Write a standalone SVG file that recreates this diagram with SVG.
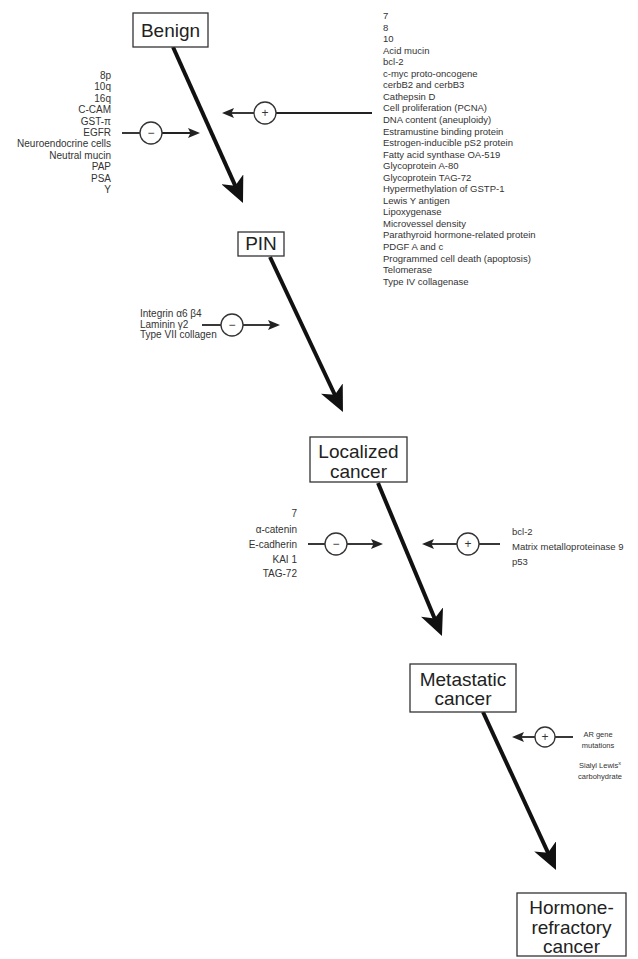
<svg xmlns="http://www.w3.org/2000/svg" width="638" height="959" viewBox="0 0 638 959">
<defs>
<style>
.box{fill:#fff;stroke:#333;stroke-width:1.3}
.lbl{font-family:"Liberation Sans",Arial,sans-serif;font-size:19px;fill:#222;text-anchor:middle}
.lst{font-family:"Liberation Sans",Arial,sans-serif;font-size:9.5px;fill:#333}
.lstL{font-family:"Liberation Sans",Arial,sans-serif;font-size:10px;fill:#333;text-anchor:end}
.sm{font-family:"Liberation Sans",Arial,sans-serif;font-size:7.5px;fill:#333;text-anchor:middle}
.main{stroke:#111;stroke-width:4;fill:none;marker-end:url(#bigHead)}
.thin{stroke:#222;stroke-width:1.8;fill:none}
.thinA{stroke:#222;stroke-width:1.8;fill:none;marker-end:url(#smallHead)}
.sig{fill:#fff;stroke:#333;stroke-width:1.3}
.sgt{font-family:"Liberation Sans",Arial,sans-serif;font-size:12px;fill:#333;text-anchor:middle}
</style>
<marker id="bigHead" markerUnits="userSpaceOnUse" markerWidth="26" markerHeight="24" refX="16" refY="12" orient="auto" viewBox="0 0 26 24">
<path d="M0,0 L26,12 L0,24 L7,12 Z" fill="#111"/>
</marker>
<marker id="smallHead" markerUnits="userSpaceOnUse" markerWidth="12" markerHeight="10" refX="7" refY="5" orient="auto" viewBox="0 0 12 10">
<path d="M0,0 L12,5 L0,10 L2.5,5 Z" fill="#222"/>
</marker>
</defs>
<rect width="638" height="959" fill="#fff"/>

<g id="connectors">
<line class="main" x1="173" y1="47" x2="238.9" y2="193.9"/>
<line class="main" x1="270" y1="257" x2="338.7" y2="403.0"/>
<line class="main" x1="378" y1="483" x2="438.1" y2="626.8"/>
<line class="main" x1="483" y1="712" x2="551.8" y2="860.9"/>
<!-- benign minus -->
<line class="thin" x1="122" y1="133" x2="140" y2="133"/>
<line class="thinA" x1="162" y1="133" x2="195" y2="133"/>
<!-- benign plus -->
<line class="thin" x1="372" y1="113" x2="276" y2="113"/>
<line class="thinA" x1="254" y1="113" x2="227" y2="113"/>
<!-- PIN minus -->
<line class="thin" x1="202" y1="325" x2="221" y2="325"/>
<line class="thinA" x1="243" y1="325" x2="275" y2="325"/>
<!-- localized minus -->
<line class="thin" x1="308" y1="544" x2="325" y2="544"/>
<line class="thinA" x1="347" y1="544" x2="378" y2="544"/>
<!-- localized plus -->
<line class="thin" x1="500" y1="544" x2="479" y2="544"/>
<line class="thinA" x1="457" y1="544" x2="427" y2="544"/>
<!-- metastatic plus -->
<line class="thin" x1="573" y1="737" x2="555" y2="737"/>
<line class="thinA" x1="535" y1="737" x2="517" y2="737"/>
</g>

<g id="benign">
<rect class="box" x="133" y="13" width="75" height="34"/>
<text class="lbl" x="170.5" y="37">Benign</text>
</g>
<g id="pin">
<rect class="box" x="238" y="232" width="46" height="24"/>
<text class="lbl" x="261" y="250">PIN</text>
</g>
<g id="localized">
<rect class="box" x="310" y="437" width="97" height="45"/>
<text class="lbl" x="358.5" y="458">Localized</text>
<text class="lbl" x="358.5" y="478">cancer</text>
</g>
<g id="metastatic">
<rect class="box" x="410" y="664" width="106" height="48"/>
<text class="lbl" x="463" y="686">Metastatic</text>
<text class="lbl" x="463" y="705">cancer</text>
</g>
<g id="hormone-refractory">
<rect class="box" x="517" y="893" width="109" height="63"/>
<text class="lbl" x="571.5" y="914">Hormone-</text>
<text class="lbl" x="571.5" y="934">refractory</text>
<text class="lbl" x="571.5" y="953">cancer</text>
</g>

<g id="sign-benign-minus"><circle class="sig" cx="151" cy="133" r="11"/><text class="sgt" x="151" y="137">−</text></g>
<g id="sign-benign-plus"><circle class="sig" cx="265" cy="113" r="11"/><text class="sgt" x="265" y="117">+</text></g>
<g id="sign-pin-minus"><circle class="sig" cx="232" cy="325" r="11"/><text class="sgt" x="232" y="329">−</text></g>
<g id="sign-localized-minus"><circle class="sig" cx="336" cy="544" r="11"/><text class="sgt" x="336" y="548">−</text></g>
<g id="sign-localized-plus"><circle class="sig" cx="468" cy="544" r="11"/><text class="sgt" x="468" y="548">+</text></g>
<g id="sign-metastatic-plus"><circle class="sig" cx="545" cy="737" r="10"/><text class="sgt" x="545" y="741">+</text></g>

<g id="list-benign-minus" class="lstL">
<text x="111" y="79">8p</text>
<text x="111" y="90.4">10q</text>
<text x="111" y="101.8">16q</text>
<text x="111" y="113.2">C-CAM</text>
<text x="111" y="124.6">GST-π</text>
<text x="111" y="136">EGFR</text>
<text x="111" y="147.4">Neuroendocrine cells</text>
<text x="111" y="158.8">Neutral mucin</text>
<text x="111" y="170.2">PAP</text>
<text x="111" y="181.6">PSA</text>
<text x="111" y="193">Y</text>
</g>

<g id="list-benign-plus" class="lst">
<text x="383" y="19">7</text>
<text x="383" y="30.5">8</text>
<text x="383" y="42.1">10</text>
<text x="383" y="53.6">Acid mucin</text>
<text x="383" y="65.2">bcl-2</text>
<text x="383" y="76.7">c-myc proto-oncogene</text>
<text x="383" y="88.3">cerbB2 and cerbB3</text>
<text x="383" y="99.8">Cathepsin D</text>
<text x="383" y="111.4">Cell proliferation (PCNA)</text>
<text x="383" y="122.9">DNA content (aneuploidy)</text>
<text x="383" y="134.5">Estramustine binding protein</text>
<text x="383" y="146">Estrogen-inducible pS2 protein</text>
<text x="383" y="157.6">Fatty acid synthase OA-519</text>
<text x="383" y="169.1">Glycoprotein A-80</text>
<text x="383" y="180.7">Glycoprotein TAG-72</text>
<text x="383" y="192.2">Hypermethylation of GSTP-1</text>
<text x="383" y="203.8">Lewis Y antigen</text>
<text x="383" y="215.3">Lipoxygenase</text>
<text x="383" y="226.9">Microvessel density</text>
<text x="383" y="238.4">Parathyroid hormone-related protein</text>
<text x="383" y="250">PDGF A and c</text>
<text x="383" y="261.5">Programmed cell death (apoptosis)</text>
<text x="383" y="273.1">Telomerase</text>
<text x="383" y="284.6">Type IV collagenase</text>
</g>

<g id="list-pin-minus" class="lst" style="font-size:10px">
<text x="140" y="317">Integrin α6 β4</text>
<text x="140" y="328">Laminin γ2</text>
<text x="140" y="338">Type VII collagen</text>
</g>

<g id="list-localized-minus" class="lstL">
<text x="297" y="517">7</text>
<text x="297" y="533">α-catenin</text>
<text x="297" y="548">E-cadherin</text>
<text x="297" y="563">KAI 1</text>
<text x="297" y="577">TAG-72</text>
</g>

<g id="list-localized-plus" class="lst">
<text x="512" y="535">bcl-2</text>
<text x="512" y="550">Matrix metalloproteinase 9</text>
<text x="512" y="565">p53</text>
</g>

<g id="list-metastatic-plus" class="sm">
<text x="598" y="737">AR gene</text>
<text x="598" y="748">mutations</text>
<text x="600" y="768">Sialyl Lewis<tspan dy="-3" font-size="5.5">x</tspan></text>
<text x="600" y="779">carbohydrate</text>
</g>
</svg>
